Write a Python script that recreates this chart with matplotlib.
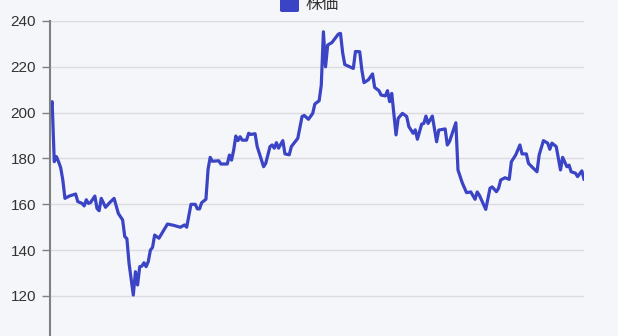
import matplotlib.pyplot as plt
from matplotlib.patches import FancyBboxPatch

# trading day index and closing price
days = [0, 1, 2, 3, 4, 5, 6, 7, 9, 12, 13, 15, 16, 17, 18, 19, 21, 22, 23, 24,
        26, 28, 30, 32, 34, 35, 36, 37, 39, 40, 41, 42, 43, 44, 45, 46, 47, 48, 49, 51,
        55, 58, 61, 63, 64, 66, 68, 69, 70, 71, 73, 74, 75, 76, 79, 80, 83, 84, 85, 86,
        87, 88, 89, 90, 92, 93, 94, 96, 97, 100, 101, 103, 104, 105, 106, 107, 109, 110, 112, 113,
        116, 118, 119, 121, 123, 124, 126, 127, 128, 129, 130, 132, 135, 136, 137, 138, 142, 143, 145, 146,
        147, 149, 151, 152, 154, 155, 157, 158, 159, 160, 162, 163, 165, 167, 168, 170, 171, 172, 174, 175,
        176, 177, 179, 181, 182, 185, 186, 187, 190, 191, 193, 195, 197, 199, 200, 201, 204, 206, 207, 209,
        210, 211, 213, 215, 216, 218, 220, 221, 223, 224, 226, 228, 229, 231, 233, 234, 235, 237, 239, 240,
        242, 243, 244, 246, 247, 249, 250]
prices = [200.0, 204.8, 178.6, 180.8, 178.6, 176.0, 170.6, 162.6, 163.6, 164.5,
          161.2, 160.4, 159.3, 162.0, 160.4, 160.8, 163.6, 158.2, 157.2, 162.6,
          158.7, 160.8, 162.6, 156.0, 153.2, 145.9, 145.0, 134.3, 120.4, 130.6,
          124.8, 132.8, 133.0, 134.5, 132.8, 135.0, 140.0, 141.2, 146.6, 145.2,
          151.4, 150.8, 150.0, 151.0, 150.0, 160.0, 160.0, 158.0, 158.0, 160.7,
          162.2, 175.3, 180.5, 178.8, 179.0, 177.6, 177.6, 181.5, 179.3, 183.7,
          189.8, 187.8, 189.5, 188.0, 188.0, 191.0, 190.5, 190.8, 185.2, 176.4,
          177.9, 185.2, 185.9, 184.5, 186.9, 184.5, 187.8, 182.0, 181.6, 185.2,
          188.8, 198.3, 198.8, 197.1, 199.7, 203.8, 205.2, 212.0, 235.3, 220.0,
          229.5, 230.6, 234.3, 234.6, 226.2, 221.0, 219.3, 226.7, 226.6, 218.6,
          213.1, 214.3, 216.9, 211.0, 209.6, 207.7, 207.3, 209.6, 204.8, 208.4,
          190.3, 197.5, 199.7, 198.3, 193.9, 191.0, 192.5, 188.4, 195.0, 195.3,
          198.5, 195.3, 198.5, 187.3, 192.4, 192.9, 185.9, 187.3, 195.6, 175.0,
          169.4, 165.1, 165.4, 162.2, 165.4, 164.0, 157.8, 167.0, 167.6, 165.5,
          167.0, 170.6, 171.6, 170.9, 178.6, 181.5, 185.9, 182.0, 182.0, 177.9,
          176.0, 174.2, 181.5, 187.8, 186.7, 184.0, 186.7, 185.2, 175.0, 180.5,
          176.4, 177.1, 174.2, 173.6, 172.1, 174.6, 171.0]
yticks = [120, 140, 160, 180, 200, 220, 240]
series_name = '株価'

bg = '#f5f6fa'
line_color = '#3a44c4'

fig = plt.figure(figsize=(6.18, 3.36), dpi=100, facecolor=bg)
ax = fig.add_axes([50 / 618, -0.0173, 534 / 618, 0.9548])
ax.set_facecolor(bg)

ax.plot(days, prices, color=line_color, lw=2.3, solid_joinstyle='round')

ax.set_xlim(0, 250)
ax.set_ylim(100, 240)
ax.set_yticks(yticks)
ax.set_xticks([])
ax.grid(axis='y', color='#dcdce0', lw=1)
ax.set_axisbelow(True)

for s in ['top', 'right', 'bottom']:
    ax.spines[s].set_visible(False)
ax.spines['left'].set_color('#808080')
ax.spines['left'].set_linewidth(1.5)
ax.tick_params(axis='y', length=6, width=1, color='#808080', pad=4,
               labelsize=11, labelcolor='#333333')
for lab in ax.get_yticklabels():
    lab.set_family(['Liberation Sans', 'DejaVu Sans'])

# legend (cut off at the top)
fig.add_artist(FancyBboxPatch((280 / 618, 1 - 12 / 336), 19 / 618, 15 / 336,
                              boxstyle='round,pad=0,rounding_size=0.004',
                              transform=fig.transFigure, fc=line_color, ec='none'))
fig.text(305 / 618, 1 - 9 / 336, series_name, fontsize=12, color='#333333',
         va='baseline', ha='left', family=['Noto Sans CJK JP', 'DejaVu Sans'])

fig.savefig('out.png', dpi=100, facecolor=bg)
